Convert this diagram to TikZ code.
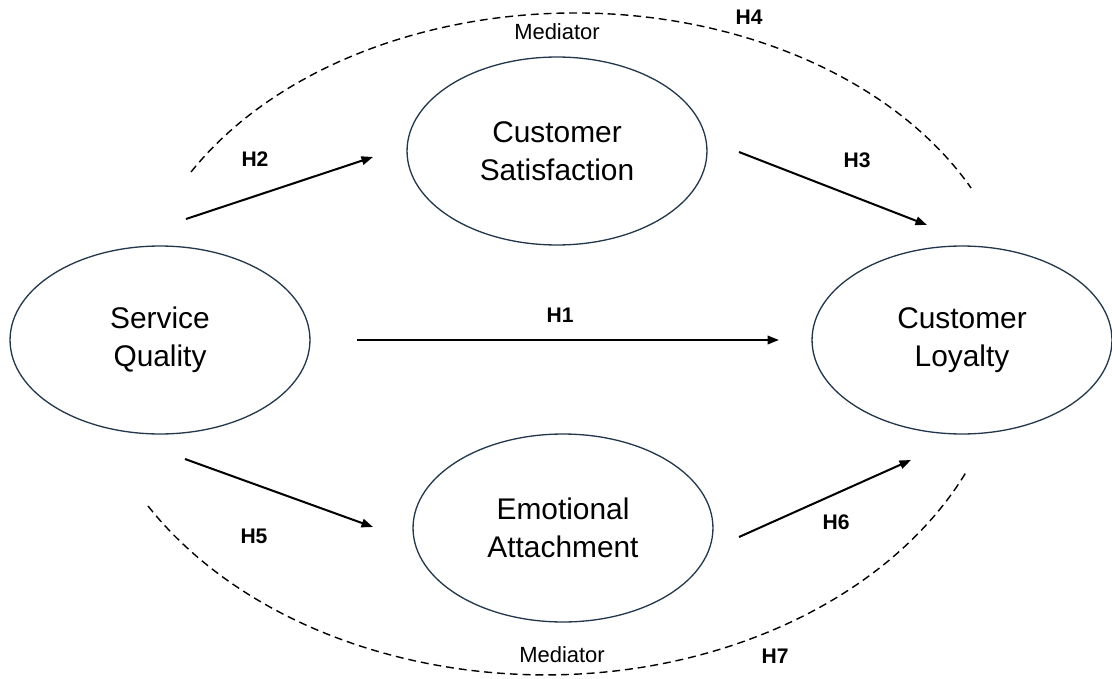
\documentclass[tikz,border=0pt]{standalone}
\usepackage{fontspec}
\setmainfont{Liberation Sans}
\usetikzlibrary{arrows.meta,shapes.geometric,positioning}
\definecolor{rim}{RGB}{35,55,75}

\begin{document}
\begin{tikzpicture}[x=0.02cm, y=-0.02cm,
  construct/.style={ellipse, draw=rim, line width=0.75pt, minimum width=6cm, minimum height=3.76cm, inner sep=0pt, align=center, font=\fontsize{17}{21.5}\selectfont},
  link/.style={line width=1.15pt, -{Triangle[length=2.3mm,width=1.7mm]}},
  hyp/.style={font=\fontsize{12}{14}\selectfont\bfseries, anchor=base},
  med/.style={font=\fontsize{12.5}{14}\selectfont, anchor=base},
  medline/.style={line width=0.8pt, dash pattern=on 4.5pt off 2.8pt}]

\useasboundingbox (0,0) rectangle (1112,679);

\node[construct] (sq) at (160,340) {Service\\Quality};
\node[construct] (cs) at (557,151) {Customer\\Satisfaction};
\node[construct] (cl) at (962,340) {Customer\\Loyalty};
\node[construct] (ea) at (563,528) {Emotional\\Attachment};

% arrow ends
\coordinate (h1a) at (357,340); \coordinate (h1b) at (779,340);
\coordinate (h2a) at (186,219); \coordinate (h2b) at (373,157);
\coordinate (h3a) at (739,152); \coordinate (h3b) at (927,225);
\coordinate (h5a) at (185,459); \coordinate (h5b) at (373,527);
\coordinate (h6a) at (739,537); \coordinate (h6b) at (911,460);

\draw[link] (h1a) -- (h1b);
\draw[link] (h2a) -- (h2b);
\draw[link] (h3a) -- (h3b);
\draw[link] (h5a) -- (h5b);
\draw[link] (h6a) -- (h6b);

% mediator paths
\coordinate (topl) at (191,172);
\coordinate (botl) at (148,506);
\draw[medline] (topl) arc[start angle=-150.1, end angle=-26.6, x radius=443, y radius=317];
\draw[medline] (botl) arc[start angle=149.3, end angle=24.5, x radius=462, y radius=345];

\node[hyp] (l1) at (560,322) {H1};
\node[hyp] (l2) at (255,166) {H2};
\node[hyp] (l3) at (857,167) {H3};
\node[hyp] (l4) at (749,25) {H4};
\node[hyp] (l5) at (254,543) {H5};
\node[hyp] (l6) at (836,529) {H6};
\node[hyp] (l7) at (775,663) {H7};

\node[med] (m1) at (557,40) {Mediator};
\node[med] (m2) at (562,662) {Mediator};

\end{tikzpicture}
\end{document}
